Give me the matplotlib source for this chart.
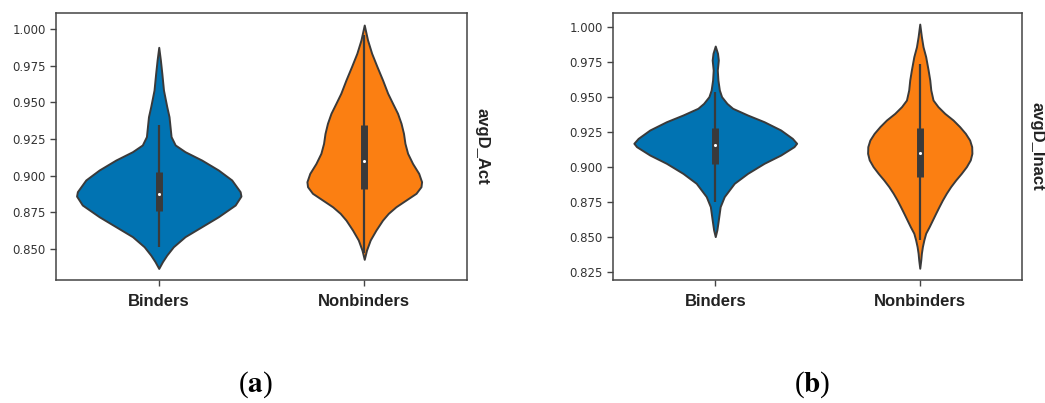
import numpy as np
import matplotlib
matplotlib.use("Agg")
import matplotlib.pyplot as plt

# ---------------- data ----------------
categories = ["Binders", "Nonbinders"]
panel_labels = ["avgD_Act", "avgD_Inact"]
captions = ["a", "b"]

# violin outlines: value grid and half-width (in category units)
act_binders_y = [0.9877, 0.9790, 0.9699, 0.9585, 0.9472, 0.9403, 0.9335, 0.9267, 0.9210,
                 0.9164, 0.9107, 0.9039, 0.8971, 0.8891, 0.8861, 0.8800, 0.8720, 0.8652,
                 0.8584, 0.8515, 0.8458, 0.8413, 0.8367]
act_binders_w = [0.0, 0.008, 0.015, 0.023, 0.039, 0.050, 0.055, 0.060, 0.080,
                 0.128, 0.209, 0.290, 0.355, 0.396, 0.400, 0.372, 0.290, 0.209,
                 0.128, 0.071, 0.039, 0.018, 0.0]

act_nonbinders_y = [1.0029, 0.9927, 0.9836, 0.9745, 0.9654, 0.9563, 0.9494, 0.9426, 0.9358,
                    0.9289, 0.9221, 0.9153, 0.9084, 0.9016, 0.8959, 0.8925, 0.8880, 0.8834,
                    0.8788, 0.8743, 0.8697, 0.8629, 0.8561, 0.8492, 0.8429]
act_nonbinders_w = [0.0, 0.016, 0.036, 0.062, 0.089, 0.114, 0.138, 0.162, 0.179,
                    0.191, 0.198, 0.211, 0.235, 0.265, 0.279, 0.276, 0.252, 0.203,
                    0.154, 0.117, 0.089, 0.057, 0.029, 0.011, 0.0]

inact_binders_y = [0.9862, 0.9810, 0.9762, 0.9690, 0.9619, 0.9548, 0.9500, 0.9452, 0.9417,
                   0.9369, 0.9321, 0.9262, 0.9202, 0.9167, 0.9143, 0.9083, 0.9024, 0.8952,
                   0.8881, 0.8786, 0.8714, 0.8619, 0.8548, 0.8500]
inact_binders_w = [0.0, 0.011, 0.015, 0.010, 0.013, 0.020, 0.031, 0.057, 0.085,
                   0.158, 0.239, 0.320, 0.377, 0.398, 0.385, 0.320, 0.239, 0.158,
                   0.093, 0.044, 0.024, 0.015, 0.008, 0.0]

inact_nonbinders_y = [1.0019, 0.9929, 0.9857, 0.9786, 0.9690, 0.9619, 0.9548, 0.9476, 0.9429,
                      0.9381, 0.9333, 0.9286, 0.9238, 0.9190, 0.9143, 0.9095, 0.9048, 0.9000,
                      0.8952, 0.8905, 0.8857, 0.8810, 0.8762, 0.8714, 0.8667, 0.8619, 0.8571,
                      0.8524, 0.8476, 0.8429, 0.8381, 0.8333, 0.8274]
inact_nonbinders_w = [0.0, 0.008, 0.016, 0.029, 0.041, 0.049, 0.054, 0.065, 0.089,
                      0.122, 0.163, 0.195, 0.223, 0.244, 0.254, 0.255, 0.247, 0.228,
                      0.203, 0.176, 0.151, 0.130, 0.111, 0.094, 0.078, 0.062, 0.046,
                      0.029, 0.020, 0.013, 0.008, 0.005, 0.0]

# inner box statistics: [whisker_low, q1, median, q3, whisker_high]
act_binders_box = [0.8514, 0.8757, 0.8877, 0.9026, 0.9346]
act_nonbinders_box = [0.8470, 0.8909, 0.9098, 0.9346, 0.9960]
inact_binders_box = [0.8745, 0.9017, 0.9152, 0.9279, 0.9536]
inact_nonbinders_box = [0.8476, 0.8924, 0.9095, 0.9279, 0.9733]

act_yticks = [0.850, 0.875, 0.900, 0.925, 0.950, 0.975, 1.000]
inact_yticks = [0.825, 0.850, 0.875, 0.900, 0.925, 0.950, 0.975, 1.000]
act_ylim = (0.8288, 1.0111)
inact_ylim = (0.8190, 1.0098)

colors = ["#0173B2", "#FB7F12"]
edge = "#3a3a3a"

# ---------------- figure ----------------
fig = plt.figure(figsize=(10.45, 4.03), dpi=100)
ax1 = fig.add_axes([56 / 1045, 1 - 280 / 403, 411 / 1045, 267 / 403])
ax2 = fig.add_axes([613 / 1045, 1 - 280 / 403, 409 / 1045, 267 / 403])

panels = [
    (ax1, [(act_binders_y, act_binders_w, act_binders_box),
           (act_nonbinders_y, act_nonbinders_w, act_nonbinders_box)],
     act_yticks, act_ylim, panel_labels[0]),
    (ax2, [(inact_binders_y, inact_binders_w, inact_binders_box),
           (inact_nonbinders_y, inact_nonbinders_w, inact_nonbinders_box)],
     inact_yticks, inact_ylim, panel_labels[1]),
]

for ax, violins, yticks, ylim, lab in panels:
    for i, (ys, ws, box) in enumerate(violins):
        ys = np.asarray(ys)
        ws = np.asarray(ws)
        stats = [dict(coords=ys, vals=ws, mean=box[2], median=box[2],
                      min=ys.min(), max=ys.max())]
        parts = ax.violin(stats, positions=[i], widths=[2 * ws.max()],
                          showmeans=False, showextrema=False, showmedians=False)
        for b in parts["bodies"]:
            b.set_facecolor(colors[i])
            b.set_edgecolor(edge)
            b.set_linewidth(1.4)
            b.set_alpha(1)
            b.set_zorder(2)
        # inner box
        ax.vlines(i, box[0], box[4], color=edge, lw=1.6, zorder=3)
        ax.vlines(i, box[1], box[3], color=edge, lw=5.0, zorder=3)
        ax.scatter([i], [box[2]], s=5, color="white", zorder=4, linewidths=0)

    ax.set_xlim(-0.5, 1.5)
    ax.set_ylim(*ylim)
    ax.set_xticks([0, 1])
    ax.set_xticklabels(categories, fontsize=12, fontweight="bold",
                       family="Liberation Sans", color="#222222")
    ax.set_yticks(yticks)
    ax.set_yticklabels([f"{t:.3f}" for t in yticks], fontsize=8.5,
                       family="DejaVu Sans", color="#333333")
    ax.tick_params(axis="both", direction="out", length=4, width=1, color="#444444")
    ax.tick_params(axis="x", pad=6)
    for s in ax.spines.values():
        s.set_color("#444444")
        s.set_linewidth(1.1)
    ax.yaxis.set_label_position("right")
    ax.set_ylabel(lab, rotation=270, fontsize=12, fontweight="bold",
                  family="Liberation Sans", color="#222222", labelpad=16)

plt.rcParams["mathtext.fontset"] = "stix"
fig.text(255 / 1045, 1 - 385 / 403, "(" + r"$\mathbf{" + captions[0] + "}$" + ")",
         ha="center", va="center", fontsize=21, family="Liberation Serif")
fig.text(812 / 1045, 1 - 385 / 403, "(" + r"$\mathbf{" + captions[1] + "}$" + ")",
         ha="center", va="center", fontsize=21, family="Liberation Serif")

fig.savefig("out.png", dpi=100, facecolor="white")
